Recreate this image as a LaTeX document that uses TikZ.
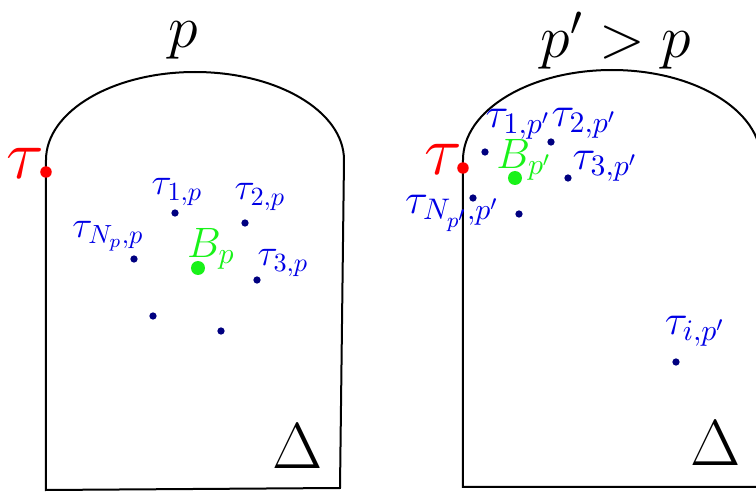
\documentclass[tikz,border=0pt]{standalone}
\usepackage{fix-cm}
\usepackage{amsmath, amssymb}
\usepackage{tikz}
\usetikzlibrary{positioning, calc}
\definecolor{ptnavy}{rgb}{0,0,0.5}
\definecolor{labblue}{rgb}{0,0,0.9}
\definecolor{bgreen}{rgb}{0.1,0.95,0.1}

\begin{document}
\begin{tikzpicture}[x=0.4pt, y=-0.4pt,
    pt/.style={circle, fill=ptnavy, inner sep=0pt, minimum size=2.9pt},
    redpt/.style={circle, fill=red, inner sep=0pt, minimum size=4.6pt},
    greenpt/.style={circle, fill=bgreen, inner sep=0pt, minimum size=5.6pt},
    lab/.style={text=labblue, inner sep=0pt, font=\fontsize{15}{18}\selectfont},
    labr/.style={lab, font=\fontsize{17}{20}\selectfont},
    redlab/.style={text=red, inner sep=0pt, font=\fontsize{28}{32}\selectfont},
    greenlab/.style={text=bgreen, inner sep=0pt, font=\fontsize{17}{20}\selectfont},
    title/.style={inner sep=0pt, font=\fontsize{24}{28}\selectfont},
    domlab/.style={inner sep=0pt, font=\fontsize{26}{30}\selectfont}]
    \clip (0,0) rectangle (756,493);

    % Left domain : parameter p
    \begin{scope}
        \draw[thick] (46,490) -- (46,160)
            arc[start angle=180, end angle=360, x radius=149, y radius=88]
            -- (340,488) -- cycle;
        \node[title] (tleft) at (183,40) {$p$};
        \node[domlab] (dleft) at (298,446) {$\Delta$};

        \node[redpt] (tau) at (46,172) {};
        \node[redlab] (taulab) at (25,163) {$\tau$};

        \node[pt] (a1) at (175,213) {};
        \node[pt] (a2) at (245,223) {};
        \node[pt] (a3) at (257,280) {};
        \node[pt] (aN) at (134,259) {};
        \node[pt] (a5) at (153,316) {};
        \node[pt] (a6) at (221,331) {};
        \node[greenpt] (bp) at (198,268) {};

        \node[lab] (a1lab) at (177,192) {$\tau_{1,p}$};
        \node[lab] (a2lab) at (260,197) {$\tau_{2,p}$};
        \node[lab] (a3lab) at (283,263) {$\tau_{3,p}$};
        \node[lab] (aNlab) at (108,236) {$\tau_{N_p,p}$};
        \node[greenlab] (bplab) at (211,249) {$B_p$};
    \end{scope}

    % Right domain : parameter p' > p
    \begin{scope}
        \draw[thick] (463,487) -- (463,160)
            arc[start angle=180, end angle=360, x radius=149, y radius=90]
            -- (761,487) -- cycle;
        \node[title] (tright) at (616,41) {$p' > p$};
        \node[domlab] (dright) at (716,443) {$\Delta$};

        \node[redpt] (taur) at (463,168) {};
        \node[redlab] (taurlab) at (443,159) {$\tau$};

        \node[pt] (b1) at (485,152) {};
        \node[pt] (b2) at (551,142) {};
        \node[pt] (b3) at (568,178) {};
        \node[pt] (bN) at (473,198) {};
        \node[pt] (b5) at (519,214) {};
        \node[pt] (bi) at (676,362) {};
        \node[greenpt] (bpp) at (515,178) {};

        \node[labr] (b1lab) at (518,124) {$\tau_{1,p'}$};
        \node[labr] (b2lab) at (584,123) {$\tau_{2,p'}$};
        \node[labr] (b3lab) at (605,166) {$\tau_{3,p'}$};
        \node[labr] (bNlab) at (452,213) {$\tau_{N_{p'},p'}$};
        \node[labr] (bilab) at (695,331) {$\tau_{i,p'}$};
        \node[greenlab] (bpplab) at (524,160) {$B_{p'}$};
    \end{scope}
\end{tikzpicture}
\end{document}
